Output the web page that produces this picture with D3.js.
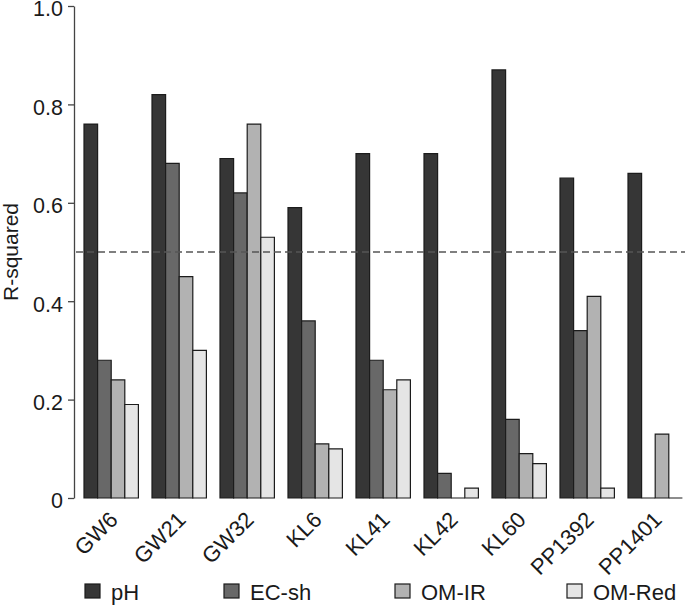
<!DOCTYPE html>
<html>
<head>
<meta charset="utf-8">
<script src="https://cdn.jsdelivr.net/npm/d3@7"></script>
<style>
  html, body { margin: 0; padding: 0; background: #fff; }
  svg { display: block; font-family: "Liberation Sans", Arial, Helvetica, sans-serif; }
</style>
</head>
<body>
<svg id="chart" width="685" height="605"></svg>
<script>
// ---- data ----
const categories = ["GW6", "GW21", "GW32", "KL6", "KL41", "KL42", "KL60", "PP1392", "PP1401"];
const seriesNames = ["pH", "EC-sh", "OM-IR", "OM-Red"];
const pH    = [0.76, 0.82, 0.69, 0.59, 0.70, 0.70, 0.87, 0.65, 0.66];
const ecSh  = [0.28, 0.68, 0.62, 0.36, 0.28, 0.05, 0.16, 0.34, 0.00];
const omIR  = [0.24, 0.45, 0.76, 0.11, 0.22, 0.00, 0.09, 0.41, 0.13];
const omRed = [0.19, 0.30, 0.53, 0.10, 0.24, 0.02, 0.07, 0.02, 0.00];
const yTicks = [0, 0.2, 0.4, 0.6, 0.8, 1.0];
const threshold = 0.5;
const yLabel = "R-squared";

// ---- styles ----
const colors = ["#363636", "#686868", "#b2b2b2", "#e5e5e5"];
const seriesValues = [pH, ecSh, omIR, omRed];

const svg = d3.select("#chart");
const axisX = 74;

const x = d3.scaleBand().domain(categories).range([84, 682.4]).paddingInner(0.2).paddingOuter(0);
const xs = d3.scaleBand().domain(seriesNames).range([0, x.bandwidth()]).padding(0);
const y = d3.scaleLinear().domain([0, 1]).range([498, 6]);

// bars
const rows = [];
categories.forEach((c, i) => {
  seriesNames.forEach((s, j) => {
    rows.push({cat: c, ser: s, v: seriesValues[j][i], color: colors[j]});
  });
});

svg.append("g").selectAll("path")
  .data(rows)
  .join("path")
  .attr("d", d => {
    const x0 = x(d.cat) + xs(d.ser), w = xs.bandwidth();
    const y0 = y(0), y1 = y(d.v);
    return `M${x0},${y0}V${y1}H${x0 + w}V${y0}Z`;
  })
  .attr("fill", d => d.color)
  .attr("stroke", "#1c1c1c")
  .attr("stroke-width", 1.2);

// threshold dashed line
svg.append("line")
  .attr("x1", axisX + 2).attr("x2", 685)
  .attr("y1", y(threshold)).attr("y2", y(threshold))
  .attr("stroke", "#555")
  .attr("stroke-width", 1.3)
  .attr("stroke-dasharray", "7,4");

// y axis
const yAxis = d3.axisLeft(y)
  .tickValues(yTicks)
  .tickFormat(d => d === 0 ? "0" : d3.format(".1f")(d))
  .tickSizeInner(6).tickSizeOuter(0).tickPadding(5);
const gy = svg.append("g").attr("transform", `translate(${axisX},0)`).call(yAxis);
gy.select(".domain").attr("stroke", "#444").attr("stroke-width", 1.3);
gy.selectAll(".tick line").attr("stroke", "#444").attr("stroke-width", 1.3);
gy.selectAll(".tick text").attr("font-size", 21.5).attr("fill", "#1a1a1a")
  .attr("dy", "0.46em")
  .attr("font-family", "'Liberation Sans', Arial, Helvetica, sans-serif");

// y label
svg.append("text")
  .attr("transform", `translate(17.5,${(y(0) + y(1)) / 2}) rotate(-90)`)
  .attr("text-anchor", "middle")
  .attr("font-size", 21)
  .attr("fill", "#1a1a1a")
  .text(yLabel);

// x labels
svg.append("g").selectAll("text")
  .data(categories)
  .join("text")
  .attr("transform", d => `translate(${x(d) + x.bandwidth() / 2 + 8},521) rotate(-45)`)
  .attr("text-anchor", "end")
  .attr("font-size", 22)
  .attr("fill", "#1a1a1a")
  .text(d => d);

// legend
const legendX = [85, 224, 395, 567];
const lg = svg.append("g").selectAll("g")
  .data(seriesNames)
  .join("g")
  .attr("transform", (d, i) => `translate(${legendX[i]},584)`);
lg.append("rect")
  .attr("width", 15).attr("height", 14)
  .attr("fill", (d, i) => colors[i])
  .attr("stroke", "#1c1c1c").attr("stroke-width", 1.2);
lg.append("text")
  .attr("x", 26).attr("y", 16)
  .attr("font-size", 22)
  .attr("fill", "#1a1a1a")
  .text(d => d);
</script>
</body>
</html>
